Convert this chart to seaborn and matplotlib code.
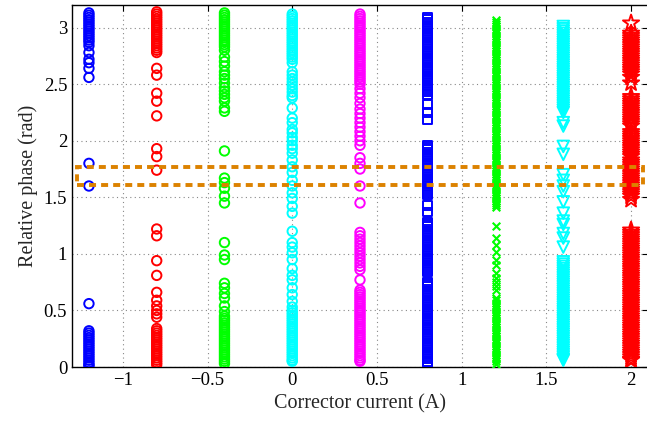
import matplotlib
matplotlib.use("Agg")
import matplotlib.pyplot as plt
import seaborn as sns
import pandas as pd
from matplotlib.patches import Rectangle

# ---- data ----
currents = [-1.2, -0.8, -0.4, 0.0, 0.4, 0.8, 1.2, 1.6, 2.0]

phase_m12 = [3.13, 3.11, 3.09, 3.07, 3.05, 3.03, 3.01, 2.99, 2.97, 2.95, 2.93, 2.91, 2.89, 2.87, 2.84,
             2.78, 2.72, 2.69, 2.64, 2.56, 1.80, 1.60, 0.56,
             0.32, 0.30, 0.28, 0.26, 0.24, 0.22, 0.20, 0.18, 0.16, 0.14, 0.12, 0.10, 0.08, 0.06, 0.04, 0.02, 0.01]
phase_m08 = [3.14, 3.12, 3.10, 3.08, 3.06, 3.04, 3.02, 3.00, 2.98, 2.96, 2.94, 2.92, 2.90, 2.88, 2.86, 2.84,
             2.82, 2.80, 2.78, 2.64, 2.58, 2.42, 2.35, 2.22, 1.93, 1.86, 1.74,
             1.22, 1.16, 0.94, 0.81, 0.66, 0.59, 0.54, 0.50, 0.47, 0.44,
             0.34, 0.32, 0.30, 0.28, 0.26, 0.24, 0.22, 0.20, 0.18, 0.16, 0.14, 0.12, 0.10, 0.08, 0.06, 0.04, 0.02]
phase_m04 = [3.13, 3.11, 3.09, 3.07, 3.05, 3.03, 3.01, 2.99, 2.97, 2.95, 2.93, 2.91, 2.89, 2.87, 2.85, 2.83, 2.80,
             2.74, 2.70, 2.66, 2.61, 2.58, 2.55, 2.51, 2.47, 2.44, 2.41, 2.38, 2.35, 2.29, 2.26,
             1.91, 1.67, 1.63, 1.58, 1.51, 1.45, 1.10, 0.99, 0.95,
             0.74, 0.70, 0.65, 0.61, 0.54, 0.49,
             0.45, 0.43, 0.41, 0.39, 0.37, 0.35, 0.33, 0.31, 0.29, 0.27, 0.25, 0.23, 0.21, 0.19, 0.17, 0.15,
             0.13, 0.11, 0.09, 0.07, 0.05, 0.03]
phase_0 = [3.12, 3.10, 3.08, 3.06, 3.04, 3.02, 3.00, 2.98, 2.96, 2.94, 2.92, 2.90, 2.88, 2.86, 2.84, 2.82,
           2.80, 2.78, 2.76, 2.74, 2.72, 2.69,
           2.61, 2.58, 2.55, 2.52, 2.49, 2.46, 2.43, 2.40, 2.38,
           2.29, 2.20, 2.16, 2.10, 2.07, 2.03, 2.00, 1.96, 1.93, 1.89,
           1.83, 1.77, 1.72, 1.65, 1.60, 1.54, 1.49, 1.42, 1.36, 1.20, 1.10, 1.06, 1.01, 0.95, 0.87,
           0.81, 0.77, 0.70, 0.64, 0.58, 0.53,
           0.50, 0.48, 0.46, 0.44, 0.42, 0.40, 0.38, 0.36, 0.34, 0.32, 0.30, 0.28, 0.26, 0.24, 0.22, 0.20,
           0.18, 0.16, 0.14, 0.12, 0.10, 0.08, 0.06, 0.05]
phase_04 = [3.12, 3.10, 3.08, 3.06, 3.04, 3.02, 3.00, 2.98, 2.96, 2.94, 2.92, 2.90, 2.88, 2.86, 2.84, 2.82,
            2.80, 2.78, 2.76, 2.74, 2.72, 2.70, 2.68, 2.66, 2.64, 2.62, 2.60, 2.58, 2.56, 2.54, 2.52, 2.50,
            2.46, 2.42, 2.38, 2.33, 2.28, 2.24, 2.20, 2.16, 2.12, 2.08, 2.04, 2.00, 1.96,
            1.85, 1.80, 1.75, 1.60, 1.45,
            1.19, 1.16, 1.13, 1.10, 1.07, 1.04, 1.01, 0.98, 0.95, 0.92, 0.89, 0.86, 0.77,
            0.68, 0.66, 0.64, 0.62, 0.60, 0.58, 0.56, 0.54, 0.52, 0.50, 0.48, 0.46, 0.44, 0.42, 0.40, 0.38,
            0.36, 0.34, 0.32, 0.30, 0.28, 0.26, 0.24, 0.22, 0.20, 0.18, 0.16, 0.14, 0.12, 0.10, 0.08, 0.06, 0.05]
phase_08 = [3.09, 3.07, 3.05, 3.03, 3.01, 2.99, 2.97, 2.95, 2.93, 2.91, 2.89, 2.87, 2.85, 2.83, 2.81, 2.79,
            2.77, 2.75, 2.73, 2.71, 2.69, 2.67, 2.65, 2.63, 2.61, 2.59, 2.57, 2.55, 2.53, 2.51, 2.49, 2.47,
            2.45, 2.43, 2.41, 2.32, 2.25, 2.19,
            1.96, 1.94, 1.92, 1.90, 1.88, 1.86, 1.84, 1.82, 1.80, 1.78, 1.76, 1.74, 1.72, 1.70, 1.68, 1.66,
            1.64, 1.62, 1.60, 1.58, 1.56, 1.54, 1.52, 1.43, 1.37,
            1.28, 1.26, 1.24, 1.22, 1.20, 1.18, 1.16, 1.14, 1.12, 1.10, 1.08, 1.06, 1.04, 1.02, 1.00, 0.98,
            0.96, 0.94, 0.92, 0.90, 0.88, 0.86, 0.84,
            0.75, 0.73, 0.71, 0.69, 0.67, 0.65, 0.63, 0.61, 0.59, 0.57, 0.55, 0.53, 0.51, 0.49, 0.47, 0.45,
            0.43, 0.41, 0.39, 0.37, 0.35, 0.33, 0.31, 0.29, 0.27, 0.25, 0.23, 0.21, 0.19, 0.17, 0.15, 0.13,
            0.11, 0.09, 0.07, 0.05, 0.04]
phase_12 = [3.07, 3.05, 3.03, 3.01, 2.99, 2.97, 2.95, 2.93, 2.91, 2.89, 2.87, 2.85, 2.83, 2.81, 2.79, 2.77,
            2.75, 2.73, 2.71, 2.69, 2.67, 2.65, 2.63, 2.61, 2.59, 2.57, 2.55, 2.53, 2.51, 2.49, 2.47, 2.45,
            2.43, 2.41, 2.39, 2.37, 2.35, 2.33, 2.31, 2.29, 2.27, 2.25, 2.23, 2.21, 2.19, 2.17, 2.15, 2.13,
            2.11, 2.09, 2.07, 2.05, 2.03, 2.01, 1.99, 1.97, 1.95, 1.93, 1.91, 1.89, 1.87, 1.85, 1.83, 1.81,
            1.79, 1.77, 1.75, 1.73, 1.71, 1.69, 1.67, 1.65, 1.63, 1.61, 1.59, 1.57, 1.55, 1.53, 1.51, 1.49,
            1.47, 1.45, 1.43, 1.41,
            1.25, 1.14, 1.08, 1.02, 0.95, 0.90, 0.83, 0.79, 0.75, 0.72, 0.68,
            0.61, 0.59, 0.57, 0.55, 0.53, 0.51, 0.49, 0.47, 0.45, 0.43, 0.41, 0.39, 0.37, 0.35, 0.33, 0.31,
            0.29, 0.27, 0.25, 0.23, 0.21, 0.19, 0.17, 0.15, 0.13, 0.11, 0.09, 0.07, 0.05, 0.03]
phase_16 = [3.01, 2.99, 2.97, 2.95, 2.93, 2.91, 2.89, 2.87, 2.85, 2.83, 2.81, 2.79, 2.77, 2.75, 2.73, 2.71,
            2.69, 2.67, 2.65, 2.63, 2.61, 2.59, 2.57, 2.55, 2.53, 2.51, 2.49, 2.47, 2.45, 2.43, 2.41, 2.39,
            2.37, 2.35, 2.33, 2.31, 2.29, 2.27, 2.25,
            2.16, 2.13, 1.95, 1.88, 1.70, 1.65, 1.60, 1.55, 1.46, 1.36, 1.29, 1.26, 1.18, 1.14, 1.06,
            0.93, 0.91, 0.89, 0.87, 0.85, 0.83, 0.81, 0.79, 0.77, 0.75, 0.73, 0.71, 0.69, 0.67, 0.65, 0.63,
            0.61, 0.59, 0.57, 0.55, 0.53, 0.51, 0.49, 0.47, 0.45, 0.43, 0.41, 0.39, 0.37, 0.35, 0.33, 0.31,
            0.29, 0.27, 0.25, 0.23, 0.21, 0.19, 0.17, 0.15, 0.13, 0.11, 0.09, 0.07, 0.06]
phase_20 = [3.04, 2.95, 2.93, 2.91, 2.89, 2.87, 2.85, 2.83, 2.81, 2.79, 2.77, 2.75, 2.73, 2.71, 2.69, 2.67,
            2.65, 2.63, 2.61, 2.59, 2.56, 2.51,
            2.39, 2.37, 2.35, 2.33, 2.31, 2.29, 2.27, 2.25, 2.23, 2.21, 2.19, 2.17, 2.15, 2.13,
            2.08, 2.06, 2.04, 2.02, 2.00, 1.98, 1.96, 1.94, 1.92, 1.90, 1.88, 1.86,
            1.83, 1.81, 1.79, 1.77, 1.75, 1.73, 1.71, 1.69, 1.67, 1.65, 1.63, 1.61, 1.59, 1.57, 1.55, 1.53,
            1.51, 1.48,
            1.21, 1.19, 1.17, 1.15, 1.13, 1.11, 1.09, 1.07, 1.05, 1.03, 1.01, 0.99, 0.97, 0.95, 0.93, 0.91,
            0.89, 0.87, 0.85, 0.83, 0.81, 0.79, 0.77, 0.75, 0.73, 0.71, 0.69, 0.67, 0.65, 0.63, 0.61, 0.59,
            0.57, 0.55, 0.53, 0.51, 0.49, 0.47, 0.45, 0.43, 0.41, 0.39, 0.37, 0.35, 0.33, 0.31, 0.29, 0.27,
            0.25, 0.23, 0.21, 0.19, 0.17, 0.15, 0.13, 0.11, 0.09, 0.07, 0.06]

series_phases = [phase_m12, phase_m08, phase_m04, phase_0, phase_04, phase_08, phase_12, phase_16, phase_20]
series_colors = ["#0000FF", "#FF0000", "#00FF00", "#00FFFF", "#FF00FF", "#0000FF", "#00FF00", "#00FFFF", "#FF0000"]
series_markers = ["o", "o", "o", "o", "o", "s", "x", "v", "*"]
series_sizes = [46, 46, 46, 46, 46, 40, 30, 70, 150]

x_ticks = [-1, -0.5, 0, 0.5, 1, 1.5, 2]
x_ticklabels = ["\u22121", "\u22120.5", "0", "0.5", "1", "1.5", "2"]
y_ticks = [0, 0.5, 1, 1.5, 2, 2.5, 3]
y_ticklabels = ["0", "0.5", "1", "1.5", "2", "2.5", "3"]

band_lo, band_hi = 1.605, 1.765
band_x0, band_x1 = -1.27, 2.07

rows = []
for cur, ph in zip(currents, series_phases):
    for v in ph:
        rows.append({"current": cur, "phase": v})
df = pd.DataFrame(rows)

# ---- plotting ----
sns.set_style("white")
plt.rcParams["font.family"] = ["Liberation Serif", "DejaVu Serif"]
plt.rcParams["axes.unicode_minus"] = True

fig = plt.figure(figsize=(6.47, 4.24), dpi=100)
ax = fig.add_axes([72 / 647, 57 / 424, 576 / 647, 362 / 424])

for cur, col, mk, sz in zip(currents, series_colors, series_markers, series_sizes):
    sub = df[df["current"] == cur]
    if mk == "x":
        sns.scatterplot(data=sub, x="current", y="phase", marker=mk, s=sz, color=col,
                        linewidth=1.5, ax=ax, zorder=3, legend=False)
    else:
        sns.scatterplot(data=sub, x="current", y="phase", marker=mk, s=sz, color=col,
                        facecolors="none", edgecolor=col, linewidth=1.4, ax=ax, zorder=3, legend=False)

ax.add_patch(Rectangle((band_x0, band_lo), band_x1 - band_x0, band_hi - band_lo, fill=False,
                       edgecolor="#DC8200", linestyle=(0, (1.8, 1.3)), linewidth=2.8, zorder=4))

ax.set_xlim(-1.3, 2.1)
ax.set_ylim(0, 3.2)
ax.set_xticks(x_ticks)
ax.set_xticklabels(x_ticklabels)
ax.set_yticks(y_ticks)
ax.set_yticklabels(y_ticklabels)
ax.grid(True, linestyle=(0, (1, 3)), color="#888888", linewidth=0.8)
ax.tick_params(direction="in", top=True, right=True, length=4, width=0.8, labelsize=13.5, colors="black")
for s in ax.spines.values():
    s.set_visible(True)
    s.set_color("black")
    s.set_linewidth(1.0)
ax.set_xlabel("Corrector current (A)", fontsize=14.5)
ax.set_ylabel("Relative phase (rad)", fontsize=14.5)

fig.savefig("out.png", dpi=100)
